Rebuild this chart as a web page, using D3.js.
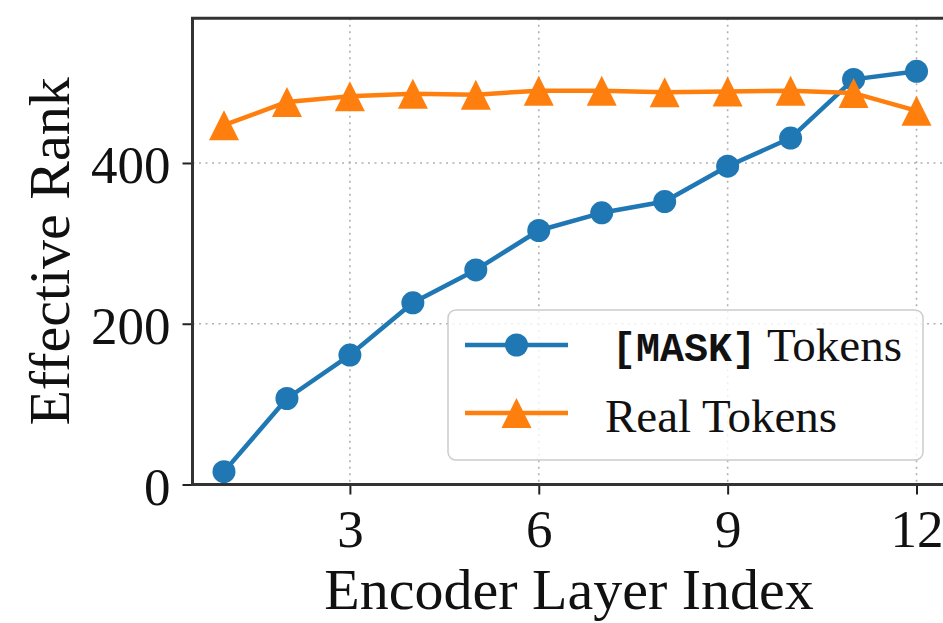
<!DOCTYPE html>
<html>
<head>
<meta charset="utf-8">
<script src="https://cdn.jsdelivr.net/npm/d3@7"></script>
<style>
  html, body { margin: 0; padding: 0; background: #fff; }
  svg { display: block; }
</style>
</head>
<body>
<svg id="chart" width="943" height="623"></svg>
<script>
// ---- data ----
const layers = [1, 2, 3, 4, 5, 6, 7, 8, 9, 10, 11, 12];
const maskTokens = [16, 107, 161, 226, 267, 316, 338, 352, 396, 431, 504, 514];
const realTokens = [447, 476, 483, 486, 485, 490, 490, 488, 489, 490, 487, 465];
const xTicks = [3, 6, 9, 12];
const yTicks = [0, 200, 400];
const seriesNames = ["[MASK]", "Real Tokens"];

(function () {
const svg = d3.select("#chart");
const serif = "'Liberation Serif', 'DejaVu Serif', serif";
const mono = "'Liberation Mono', 'DejaVu Sans Mono', monospace";
const blue = "#1f77b4", orange = "#ff7f0e";

const pLeft = 192.5, pRight = 948, pTop = 18.3, pBottom = 484.5;
const x = d3.scaleLinear().domain([0.5, 12.5]).range([pLeft, pRight]);
const y = d3.scaleLinear().domain([0, 580]).range([pBottom, pTop]);

// grid
const grid = svg.append("g");
grid.selectAll("line.gx").data(xTicks).join("line").attr("class", "gx")
  .attr("x1", d => x(d)).attr("x2", d => x(d))
  .attr("y1", pTop).attr("y2", pBottom)
  .attr("stroke", "#b0b0b0").attr("stroke-width", 1.6).attr("stroke-dasharray", "2,4.5");
grid.selectAll("line.gy").data(yTicks).join("line").attr("class", "gy")
  .attr("x1", pLeft).attr("x2", pRight)
  .attr("y1", d => y(d)).attr("y2", d => y(d))
  .attr("stroke", "#b0b0b0").attr("stroke-width", 1.6).attr("stroke-dasharray", "2,4.5");

// axes
const xAxis = d3.axisBottom(x).tickValues(xTicks).tickSize(10).tickPadding(12).tickFormat(d3.format("d"));
const yAxis = d3.axisLeft(y).tickValues(yTicks).tickSize(10).tickPadding(12).tickFormat(d3.format("d"));

const gx = svg.append("g").attr("transform", `translate(0,${pBottom})`).call(xAxis);
const gy = svg.append("g").attr("transform", `translate(${pLeft},0)`).call(yAxis);
[gx, gy].forEach(g => {
  g.select(".domain").remove();
  g.selectAll(".tick line").attr("stroke", "#222").attr("stroke-width", 2);
  g.selectAll(".tick text").attr("font-family", serif).attr("font-size", 53).attr("fill", "#111");
});
gx.selectAll(".tick text").attr("dy", null).attr("y", 62);
gy.selectAll(".tick text").attr("dy", null).attr("x", -22).attr("y", 20);

// lines
const line = d3.line().x((d, i) => x(layers[i])).y(d => y(d));

function drawSeries(vals, color, marker) {
  const g = svg.append("g");
  g.append("path").datum(vals).attr("d", line)
    .attr("fill", "none").attr("stroke", color).attr("stroke-width", 4.5)
    .attr("stroke-linejoin", "round").attr("stroke-linecap", "square");
  if (marker === "circle") {
    g.selectAll("circle").data(vals).join("circle")
      .attr("cx", (d, i) => x(layers[i])).attr("cy", d => y(d)).attr("r", 11.5)
      .attr("fill", color);
  } else {
    g.selectAll("path.tri").data(vals).join("path").attr("class", "tri")
      .attr("d", (d, i) => {
        const cx = x(layers[i]), cy = y(d), h = 15;
        return `M${cx},${cy - h}L${cx - h},${cy + h}L${cx + h},${cy + h}Z`;
      })
      .attr("fill", color);
  }
}
drawSeries(maskTokens, blue, "circle");
drawSeries(realTokens, orange, "triangle");

// spines
svg.append("line").attr("x1", pLeft).attr("x2", pLeft).attr("y1", pTop).attr("y2", pBottom)
  .attr("stroke", "#333").attr("stroke-width", 3);
svg.append("line").attr("x1", pLeft - 1.5).attr("x2", pRight).attr("y1", pBottom).attr("y2", pBottom)
  .attr("stroke", "#333").attr("stroke-width", 3);
svg.append("line").attr("x1", pLeft - 1.5).attr("x2", pRight).attr("y1", pTop).attr("y2", pTop)
  .attr("stroke", "#333").attr("stroke-width", 3);

// axis labels
svg.append("text").attr("x", (322 + 816) / 2).attr("y", 609)
  .attr("text-anchor", "middle").attr("font-family", serif).attr("font-size", 58).attr("fill", "#111")
  .text("Encoder Layer Index");
svg.append("text").attr("transform", `translate(69,${(pTop + pBottom) / 2}) rotate(-90)`)
  .attr("text-anchor", "middle").attr("font-family", serif).attr("font-size", 58).attr("fill", "#111")
  .text("Effective Rank");

// legend
const lg = svg.append("g");
lg.append("rect").attr("x", 448).attr("y", 310).attr("width", 475).attr("height", 150)
  .attr("rx", 8).attr("fill", "white").attr("fill-opacity", 0.8)
  .attr("stroke", "#cccccc").attr("stroke-width", 1.5);
const rows = [{y: 345, color: blue, m: "circle"}, {y: 413, color: orange, m: "triangle"}];
rows.forEach(r => {
  lg.append("line").attr("x1", 465).attr("x2", 568).attr("y1", r.y).attr("y2", r.y)
    .attr("stroke", r.color).attr("stroke-width", 4.5);
  if (r.m === "circle") {
    lg.append("circle").attr("cx", 516.5).attr("cy", r.y).attr("r", 11.5).attr("fill", r.color);
  } else {
    const h = 15, cx = 516.5, cy = r.y;
    lg.append("path").attr("d", `M${cx},${cy - h}L${cx - h},${cy + h}L${cx + h},${cy + h}Z`).attr("fill", r.color);
  }
});
const t1 = lg.append("text").attr("x", 612).attr("y", 361).attr("font-family", serif)
  .attr("font-size", 47).attr("fill", "#111");
t1.append("tspan").attr("font-family", mono).attr("font-size", 40).attr("font-weight", "bold").text(seriesNames[0]);
t1.append("tspan").text(" Tokens");
lg.append("text").attr("x", 605).attr("y", 432).attr("font-family", serif)
  .attr("font-size", 47).attr("fill", "#111").text(seriesNames[1]);
})();
</script>
</body>
</html>
